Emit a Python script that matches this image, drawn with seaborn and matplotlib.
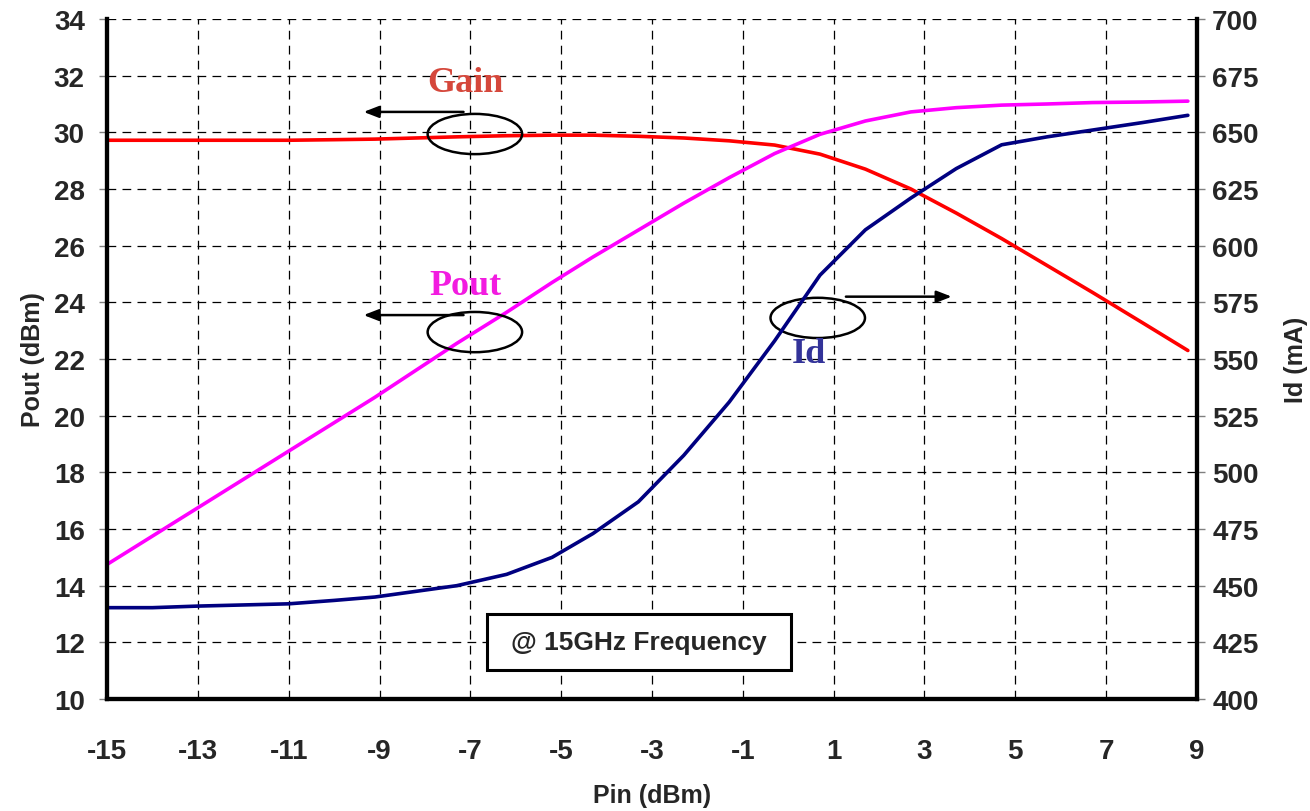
import numpy as np
import pandas as pd
import matplotlib.pyplot as plt
import seaborn as sns
from matplotlib.patches import Ellipse, Rectangle

# values
pin = [-15, -14, -13, -12, -11, -10, -9.1, -8.2, -7.3, -6.2, -5.2, -4.3, -3.3,
       -2.3, -1.3, -0.3, 0.7, 1.7, 2.7, 3.7, 4.7, 5.7, 6.7, 7.8, 8.8]
pout = [14.75, 15.75, 16.75, 17.75, 18.75, 19.75, 20.65, 21.6, 22.55, 23.65,
        24.7, 25.6, 26.55, 27.5, 28.4, 29.25, 29.93, 30.4, 30.72, 30.87,
        30.96, 31.0, 31.05, 31.07, 31.1]
gain = [29.72, 29.72, 29.72, 29.72, 29.72, 29.74, 29.76, 29.8, 29.84, 29.88,
        29.9, 29.9, 29.86, 29.8, 29.7, 29.55, 29.23, 28.7, 28.0, 27.15,
        26.25, 25.3, 24.35, 23.28, 22.3]
idc = [440.3, 440.3, 441, 441.5, 442, 443.5, 445, 447.5, 450, 455,
       462.5, 473, 487, 507.5, 531, 558, 587, 607, 621, 634,
       644.5, 648, 651, 654.3, 657.5]

df = pd.DataFrame({'Pin': pin, 'Pout': pout, 'Gain': gain, 'Id': idc})

sns.set_style("white")
plt.rcParams['font.family'] = ['Liberation Sans', 'DejaVu Sans']
plt.rcParams['font.weight'] = 'bold'
plt.rcParams['axes.unicode_minus'] = False

fig = plt.figure(figsize=(13.1, 8.12), dpi=100)
ax = fig.add_axes([0.0817, 0.1379, 0.832, 0.8375])
ax2 = ax.twinx()

sns.lineplot(data=df, x='Pin', y='Gain', ax=ax, color='#FF0000', linewidth=2.6)
sns.lineplot(data=df, x='Pin', y='Pout', ax=ax, color='#FF00FF', linewidth=2.6)
sns.lineplot(data=df, x='Pin', y='Id', ax=ax2, color='#000080', linewidth=2.6)

ax.set_xlim(-15, 9)
ax.set_ylim(10, 34)
ax2.set_ylim(400, 700)
ax.set_xticks(np.arange(-15, 10, 2))
ax.set_yticks(np.arange(10, 35, 2))
ax2.set_yticks(np.arange(400, 701, 25))

ax.grid(True, color='black', linestyle=(0, (7, 5)), linewidth=0.9)
ax.set_axisbelow(True)

for a in (ax, ax2):
    a.spines['top'].set_visible(False)
    for s in ('left', 'right', 'bottom'):
        a.spines[s].set_linewidth(3)
        a.spines[s].set_color('black')
    a.tick_params(axis='both', labelsize=20, length=6, width=1, direction='out',
                  color='gray', pad=5)
    for lab in a.get_xticklabels() + a.get_yticklabels():
        lab.set_fontweight('bold')
ax.tick_params(axis='x', pad=22)
ax.tick_params(axis='y', pad=10)

ax.set_xlabel('Pin (dBm)', fontsize=18, fontweight='bold', labelpad=14)
ax.set_ylabel('Pout (dBm)', fontsize=18, fontweight='bold', labelpad=6)
ax2.set_ylabel('Id (mA)', fontsize=18, fontweight='bold', labelpad=18)

# annotation ellipses and arrows
for cx, cy in [(-6.9, 29.94), (-6.9, 22.95), (0.65, 23.45)]:
    ax2.add_patch(Ellipse((cx, cy), 2.08, 1.42, transform=ax.transData,
                          fill=False, edgecolor='black', linewidth=1.8))
arrow = dict(arrowstyle='-|>,head_length=0.9,head_width=0.35', color='black',
             lw=1.8, shrinkA=0, shrinkB=0)
ax2.annotate('', xy=(-9.35, 30.72), xytext=(-7.15, 30.72), xycoords=ax.transData,
             textcoords=ax.transData, arrowprops=arrow)
ax2.annotate('', xy=(-9.35, 23.55), xytext=(-7.15, 23.55), xycoords=ax.transData,
             textcoords=ax.transData, arrowprops=arrow)
ax2.annotate('', xy=(3.6, 24.2), xytext=(1.27, 24.2), xycoords=ax.transData,
             textcoords=ax.transData, arrowprops=arrow)

serif = ['Liberation Serif', 'DejaVu Serif']
ax2.text(-7.1, 31.75, 'Gain', transform=ax.transData, family=serif,
         fontsize=26, fontweight='bold', color='#D5473B', ha='center', va='center')
ax2.text(-7.1, 24.6, 'Pout', transform=ax.transData, family=serif,
         fontsize=26, fontweight='bold', color='#F21CE0', ha='center', va='center')
ax2.text(0.45, 22.2, 'Id', transform=ax.transData, family=serif,
         fontsize=26, fontweight='bold', color='#333399', ha='center', va='center')

# frequency box
ax2.add_patch(Rectangle((-6.63, 11.02), 6.69, 1.98, transform=ax.transData,
                        fill=True, facecolor='white', edgecolor='black', linewidth=2.2))
ax2.text(-3.28, 12.0, '@ 15GHz Frequency', transform=ax.transData, fontsize=19,
         fontweight='bold', ha='center', va='center')

plt.savefig('out.png', dpi=100)
